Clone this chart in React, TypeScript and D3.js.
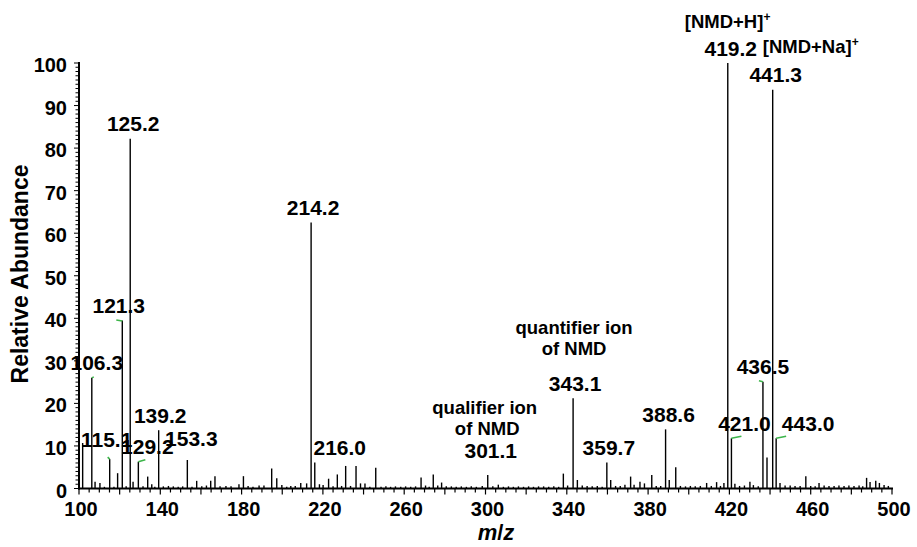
import React from 'react';
import * as d3 from 'd3';

// ---------- DATA ----------
const peakMz = [
  101.8, 106.3, 107.9, 110.3, 112.5, 115.1, 117.2, 119.0, 121.3, 123.2, 125.2, 126.6, 129.2, 131.5, 133.8, 135.8, 137.3, 139.2,
  141.5, 144.0, 146.4, 148.8, 151.0, 153.3, 155.6, 157.9, 160.4, 162.7, 164.8, 166.9, 169.4, 172.3, 174.8, 178.7, 180.9,
  183.2, 185.6, 188.6, 191.0, 194.8, 197.3, 199.8, 202.2, 204.2, 206.4, 209.1, 212.0, 214.2, 216.0, 218.3, 220.1, 222.8,
  225.0, 227.1, 229.2, 231.2, 233.6, 236.3, 238.5, 240.7, 243.1, 246.0, 248.6, 251.0, 253.3, 255.7, 258.3, 260.7, 263.2,
  265.6, 268.3, 270.5, 272.3, 274.3, 276.5, 278.4, 280.7, 283.2, 285.6, 288.1, 290.6, 293.0, 295.5, 298.4, 301.1, 303.6,
  306.3, 308.8, 311.3, 313.7, 316.2, 318.7, 321.2, 323.6, 326.1, 328.6, 331.1, 333.6, 336.0, 338.3, 340.4, 343.1, 345.2,
  347.6, 350.0, 352.5, 355.0, 357.4, 359.7, 361.6, 364.0, 366.3, 368.6, 371.4, 373.1, 376.0, 378.2, 381.8, 384.0, 386.2,
  388.6, 390.4, 393.6, 395.9, 398.4, 400.8, 403.2, 405.7, 408.8, 411.1, 413.7, 415.6, 417.3, 419.2, 421.0, 422.7, 425.0,
  427.4, 430.1, 431.8, 434.2, 436.5, 438.5, 441.3, 443.0, 444.9, 447.4, 449.9, 452.3, 454.8, 457.6, 460.0, 462.2, 464.1,
  466.6, 469.0, 471.5, 473.9, 476.4, 478.8, 481.3, 483.8, 485.6, 487.5, 489.2, 492.0, 493.8, 496.1, 498.2,
];
const peakIntensity = [
  10.7, 26.0, 1.6, 1.3, 0.4, 6.9, 0.4, 3.6, 39.5, 0.5, 82.2, 1.6, 6.3, 0.5, 2.8, 1.0, 0.4, 13.7,
  0.5, 0.6, 0.5, 0.4, 0.5, 6.7, 0.4, 1.8, 0.5, 0.7, 1.8, 2.9, 0.5, 0.6, 0.5, 1.0, 2.9,
  0.6, 0.4, 0.7, 0.7, 4.7, 2.4, 0.8, 0.4, 0.6, 0.6, 1.3, 1.2, 62.5, 6.1, 1.0, 0.8, 2.3,
  0.5, 3.3, 0.6, 5.3, 0.6, 5.3, 1.2, 1.2, 0.4, 4.9, 0.4, 0.5, 0.4, 0.5, 0.4, 0.5, 0.4,
  0.5, 2.6, 0.7, 0.4, 3.3, 0.7, 1.4, 0.5, 0.5, 0.4, 0.5, 0.4, 0.5, 0.4, 0.6, 3.2, 0.5,
  0.9, 0.4, 0.5, 0.4, 0.5, 0.4, 0.5, 0.4, 0.5, 0.5, 0.4, 0.5, 0.4, 3.5, 0.7, 21.2, 2.0,
  0.7, 0.6, 0.5, 0.6, 0.4, 6.1, 2.0, 0.6, 0.6, 0.9, 2.8, 0.9, 1.6, 1.2, 3.2, 0.6, 0.6,
  13.9, 2.0, 5.0, 0.6, 0.5, 0.6, 0.5, 0.6, 1.3, 0.6, 1.5, 0.6, 1.3, 100, 11.8, 1.1, 0.6,
  0.7, 1.6, 0.8, 0.5, 25.1, 7.3, 93.7, 11.8, 1.3, 0.7, 0.7, 0.6, 0.6, 2.9, 0.6, 0.5, 1.3,
  0.7, 0.6, 0.6, 0.7, 0.6, 0.7, 0.6, 0.7, 0.5, 2.5, 1.5, 1.8, 1.3, 0.8, 0.6,
];

const labelMz = [106.3, 115.1, 121.3, 125.2, 129.2, 139.2, 153.3, 214.2, 216.0, 301.1, 343.1, 359.7, 388.6, 419.2, 421.0, 436.5, 441.3, 443.0];
const labelText = ['106.3', '115.1', '121.3', '125.2', '129.2', '139.2', '153.3', '214.2', '216.0', '301.1', '343.1', '359.7', '388.6', '419.2', '421.0', '436.5', '441.3', '443.0'];

const xTicks = [100, 140, 180, 220, 260, 300, 340, 380, 420, 460, 500];
const yTicks = [0, 10, 20, 30, 40, 50, 60, 70, 80, 90, 100];

const xTitle = 'm/z';
const yTitle = 'Relative Abundance';
const annQuantifier = ['quantifier ion', 'of NMD'];
const annQualifier = ['qualifier ion', 'of NMD'];
const annH = '[NMD+H]';
const annNa = '[NMD+Na]';

// ---------- LAYOUT (not data) ----------
const W = 917;
const H = 547;
const labelDx: Record<string, number> = {
  '106.3': 5, '115.1': -3, '121.3': -3.5, '125.2': 3, '129.2': 9, '139.2': 1.5, '153.3': 4, '214.2': 2, '216.0': 25,
  '301.1': 3, '343.1': 2, '359.7': 2, '388.6': 3, '419.2': 3, '421.0': 13, '436.5': 0, '441.3': 3, '443.0': 32,
};
const labelDy: Record<string, number> = { '115.1': -5, '153.3': -6, '301.1': -9 };
const greenMarks: { mz: number; pts: [number, number][] }[] = [
  { mz: 106.3, pts: [[0, 0], [2, -1]] },
  { mz: 115.1, pts: [[0, 0], [-2, -2]] },
  { mz: 121.3, pts: [[0, 0.5], [-6, -0.5]] },
  { mz: 129.2, pts: [[0, 0], [7, -2]] },
  { mz: 421.0, pts: [[0, 0], [10, -2]] },
  { mz: 443.0, pts: [[0, 0], [10, -2]] },
  { mz: 436.5, pts: [[0, 0], [-4, -1]] },
];

const FONT = '"Liberation Sans", Arial, Helvetica, sans-serif';

export default function App() {
  const x = d3.scaleLinear().domain([100, 500]).range([79, 892]);
  const y = d3.scaleLinear().domain([0, 100]).range([488.5, 63]);

  const intensityOf = (mz: number) => {
    const i = peakMz.indexOf(mz);
    return i >= 0 ? peakIntensity[i] : 0;
  };

  const xMinor = d3.range(100, 500.01, 5);
  const yMinor = d3.range(0, 100.01, 1);
  const x0 = x(100);
  const yBase = y(0);

  return (
    <svg width={W} height={H} style={{ position: 'absolute', left: 0, top: 0, background: '#fff' }} fontFamily={FONT}>
      <rect x={0} y={0} width={W} height={H} fill="#fff" />
      {/* peaks */}
      <g stroke="#000" strokeWidth={1.4}>
        {peakMz.map((mz, i) => (
          <line key={i} x1={x(mz)} x2={x(mz)} y1={yBase} y2={y(peakIntensity[i])} />
        ))}
      </g>
      {/* green leader marks */}
      <g stroke="#3db54a" strokeWidth={1.6} fill="none">
        {greenMarks.map((g, i) => {
          const px = x(g.mz);
          const py = y(intensityOf(g.mz));
          const d = d3.line()(g.pts.map(([dx, dy]) => [px + dx, py + dy]) as [number, number][]);
          return <path key={i} d={d || ''} />;
        })}
      </g>
      {/* axes */}
      <g stroke="#000">
        <line x1={x0} x2={x0} y1={y(100) - 1} y2={yBase + 1} strokeWidth={2} />
        <line x1={x0 - 1} x2={x(500) + 1} y1={yBase} y2={yBase} strokeWidth={2} />
        {yMinor.map((v) => (
          <line key={'ym' + v} x1={x0} x2={x0 - (v % 10 === 0 ? 5 : 3.5)} y1={y(v)} y2={y(v)} strokeWidth={1} />
        ))}
        {xMinor.map((v) => (
          <line key={'xm' + v} x1={x(v)} x2={x(v)} y1={yBase} y2={yBase + (v % 20 === 0 ? 6 : 4)} strokeWidth={1.2} />
        ))}
      </g>
      {/* tick labels */}
      <g fontWeight="bold" fontSize={20} fill="#000">
        {yTicks.map((v) => (
          <text key={'yl' + v} x={67} y={y(v) + 2} textAnchor="end" dominantBaseline="central">
            {v}
          </text>
        ))}
        {xTicks.map((v) => (
          <text key={'xl' + v} x={x(v) + 2} y={515.5} textAnchor="middle">
            {v}
          </text>
        ))}
      </g>
      {/* axis titles */}
      <text
        transform={`translate(28, 274) rotate(-90)`}
        textAnchor="middle"
        fontWeight="bold"
        fontSize={23}
      >
        {yTitle}
      </text>
      <text x={496} y={540} textAnchor="middle" fontWeight="bold" fontSize={22}>
        <tspan fontStyle="italic">{xTitle[0]}</tspan>
        <tspan>{xTitle[1]}</tspan>
        <tspan fontStyle="italic">{xTitle[2]}</tspan>
      </text>
      {/* peak labels */}
      <g fontWeight="bold" fontSize={21} fill="#000">
        {labelMz.map((mz, i) => {
          const t = labelText[i];
          return (
            <text
              key={'pl' + i}
              x={x(mz) + (labelDx[t] ?? 0)}
              y={y(intensityOf(mz)) - 7.5 + (labelDy[t] ?? 0)}
              textAnchor="middle"
            >
              {t}
            </text>
          );
        })}
      </g>
      {/* annotations */}
      <g fontWeight="bold" fontSize={18.5} fill="#000" textAnchor="middle">
        <text x={x(343.1) + 1} y={334}>{annQuantifier[0]}</text>
        <text x={x(343.1) + 1} y={355}>{annQuantifier[1]}</text>
        <text x={x(301.1) - 3} y={414}>{annQualifier[0]}</text>
        <text x={x(301.1) - 0.5} y={435}>{annQualifier[1]}</text>
      </g>
      <g fontWeight="bold" fontSize={18.5} fill="#000">
        <text x={x(419.2) - 43} y={28}>
          {annH}
          <tspan fontSize={12} dy={-7}>+</tspan>
        </text>
        <text x={x(419.2) + 35} y={53}>
          {annNa}
          <tspan fontSize={12} dy={-7}>+</tspan>
        </text>
      </g>
    </svg>
  );
}
